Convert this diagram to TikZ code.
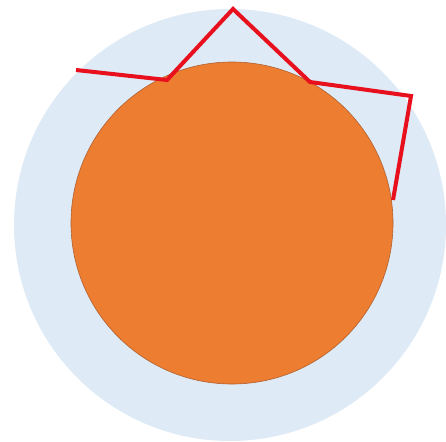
\documentclass[tikz,border=0pt]{standalone}
\definecolor{paleblue}{HTML}{DEEAF6}
\definecolor{sunorange}{HTML}{ED7D31}
\definecolor{sunedge}{HTML}{B06030}
\definecolor{linered}{HTML}{E8101C}
\begin{document}
\begin{tikzpicture}[x=1pt,y=-1pt,
  halo/.style={fill=paleblue,draw=none},
  core/.style={fill=sunorange,draw=sunedge,line width=0.6pt},
  redline/.style={draw=linered,line width=4pt,line join=miter}]
\useasboundingbox (0,0) rectangle (446,441);
\fill[halo] (230,225) circle[radius=216];
\draw[core] (232,223) circle[radius=161];
\coordinate (p1) at (76,70);
\coordinate (p2) at (167,80);
\coordinate (p3) at (233,9);
\coordinate (p4) at (310,82);
\coordinate (p5) at (411,96);
\coordinate (p6) at (393,200);
\draw[redline] (p1) -- (p2) -- (p3) -- (p4) -- (p5) -- (p6);
\end{tikzpicture}
\end{document}
